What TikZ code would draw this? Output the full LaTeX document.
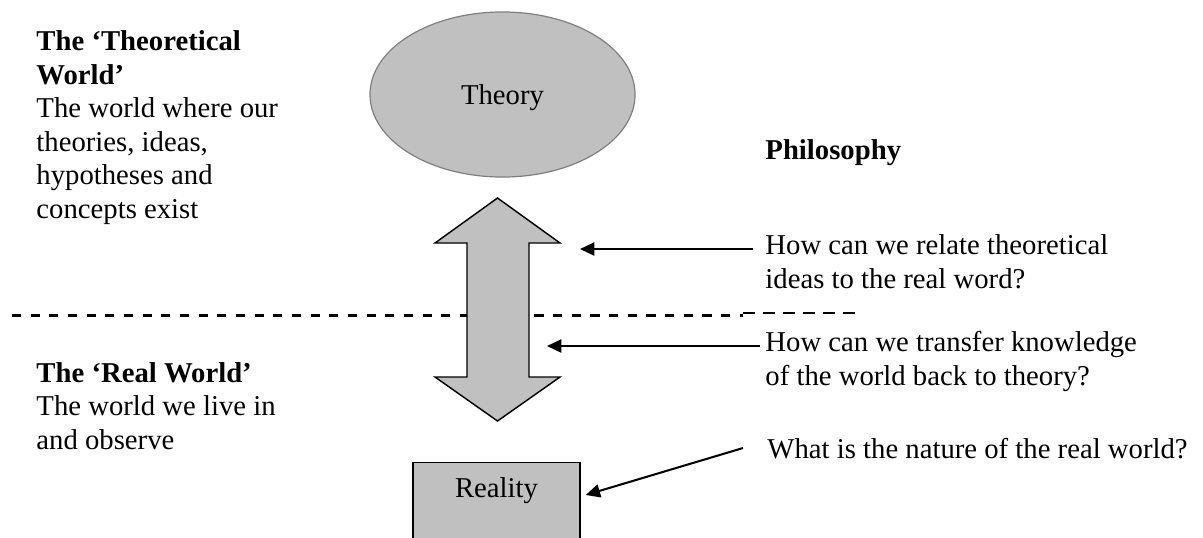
\documentclass[tikz,border=0pt]{standalone}
\usepackage{fontspec}
\setmainfont{Liberation Serif}
\usepackage{tikz}
\usetikzlibrary{shapes.geometric,arrows.meta}
\definecolor{ShapeGrey}{HTML}{C0C0C0}
\definecolor{EdgeGrey}{HTML}{7F7F7F}

\begin{document}
\begin{tikzpicture}[x=0.418pt, y=-0.418pt,
    every node/.style={font=\fontsize{12}{14}\selectfont, align=left, inner sep=0pt},
    txt/.style={anchor=base west},
    pointer/.style={-{Triangle[length=6pt, width=5.5pt]}, line width=0.85pt}]
  \useasboundingbox (0,0) rectangle (1203,537);
  \clip (0,0) rectangle (1203,537);
  % world divider
  \draw[line width=1.25pt, dash pattern=on 3.8pt off 4pt] (12,315) -- (743,315);
  \draw[line width=0.6pt, dash pattern=on 5pt off 3.4pt] (743,313) -- (863,313);
  % theory and reality
  \node[ellipse, draw=EdgeGrey, fill=ShapeGrey, line width=0.5pt, minimum width=110.8pt, minimum height=69pt, text depth=0pt] (theory) at (502.5,94.5) {Theory};
  \node[draw, fill=ShapeGrey, line width=0.6pt, anchor=north, minimum width=69.8pt, inner ysep=6.6pt, text height=8pt, text depth=20pt] (reality) at (496.5,462) {Reality};
  % two-way arrow
  \draw[fill=ShapeGrey, line width=0.6pt] (497.5,198) -- (560,243) -- (529,243) -- (529,377) -- (560,377) -- (497.5,421) -- (435,377) -- (467,377) -- (467,243) -- (435,243) -- cycle;
  \coordinate (up) at (580,249);
  \coordinate (down) at (547,346);
  % texts (base = last line)
  \node[txt] (theoworld) at (36,218) {\textbf{The `Theoretical}\\\textbf{World'}\\The world where our\\theories, ideas,\\hypotheses and\\concepts exist};
  \node[txt] (realworld) at (36,449) {\textbf{The `Real World'}\\The world we live in\\and observe};
  \node[txt] (philosophy) at (765,159) {\textbf{Philosophy}};
  \node[txt] (relate) at (765,288) {How can we relate theoretical\\ideas to the real word?};
  \node[txt] (transfer) at (765,385) {How can we transfer knowledge\\of the world back to theory?};
  \node[txt] (nature) at (767,458) {What is the nature of the real world?};
  % questions
  \draw[pointer] ([shift={(-12,-39)}]relate.base west) -- (up);
  \draw[pointer] ([shift={(-5,-39)}]transfer.base west) -- (down);
  \draw[pointer] ([shift={(-24,-10)}]nature.base west) -- ([shift={(5,33)}]reality.north east);
\end{tikzpicture}
\end{document}
